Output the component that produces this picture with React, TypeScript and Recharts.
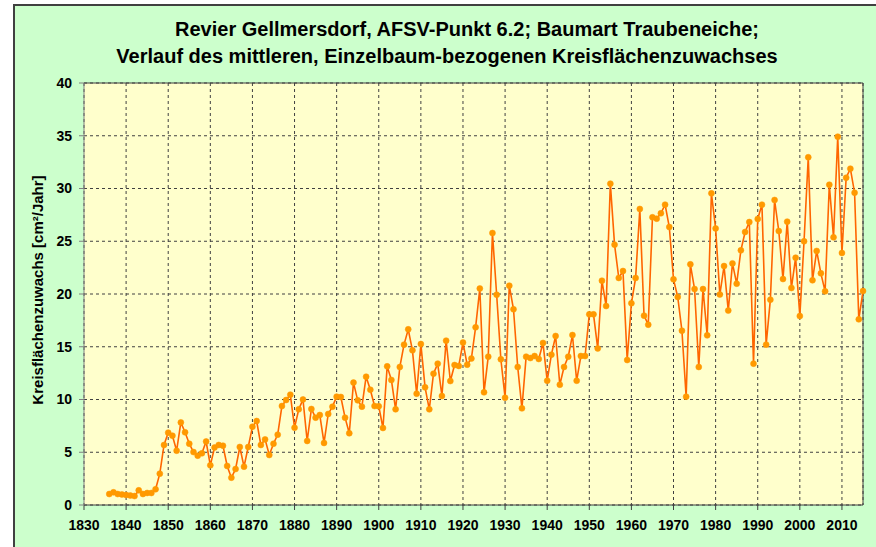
import { LineChart, Line, XAxis, YAxis, CartesianGrid, ReferenceLine } from 'recharts';

const firstYear = 1836;

// mittlerer Kreisflächenzuwachs je Jahr [cm²/Jahr], 1836–2015
const values = [
  1.04, 1.2, 1.04, 1.0, 0.95, 0.9, 0.85, 1.39, 1.04, 1.14, 1.14, 1.49, 2.97, 5.69,
  6.86, 6.57, 5.15, 7.83, 6.89, 5.81, 5.02, 4.68, 4.9, 6.02,
  3.76, 5.45, 5.69, 5.62, 3.7, 2.59, 3.41, 5.5, 3.63, 5.5,
  7.42, 7.96, 5.69, 6.22, 4.74, 5.81, 6.67, 9.38, 9.95, 10.46,
  7.33, 9.07, 10.0, 6.07, 9.1, 8.28, 8.53, 5.88, 8.63, 9.32,
  10.27, 10.24, 8.28, 6.8, 11.6, 9.92, 9.32, 12.16, 10.93, 9.38,
  9.35, 7.3, 13.14, 11.85, 9.07, 13.08, 15.2, 16.65, 14.66, 10.55,
  15.26, 11.15, 9.07, 12.45, 13.4, 10.33, 15.58, 11.75, 13.27, 13.18,
  15.4, 13.3, 13.88, 16.84, 20.52, 10.68, 14.06, 25.78, 19.93, 13.81,
  10.17, 20.79, 18.55, 13.08, 9.16, 14.06, 13.93, 14.12, 13.84, 15.36,
  11.78, 14.25, 16.02, 11.4, 13.08, 14.06, 16.11, 11.78, 14.12, 14.12,
  18.07, 18.07, 14.84, 21.26, 18.86, 30.46, 24.68, 21.52, 22.18, 13.74,
  19.12, 21.52, 28.06, 17.95, 17.09, 27.27, 27.14, 27.65, 28.47, 26.35,
  21.39, 19.72, 16.52, 10.27, 22.81, 20.47, 13.08, 20.47, 16.08, 29.54,
  26.22, 19.95, 22.65, 18.43, 22.9, 20.98, 24.14, 25.88, 26.82, 13.4,
  27.11, 28.47, 15.2, 19.46, 28.91, 25.97, 21.42, 26.86, 20.57, 23.44,
  17.91, 25.0, 32.96, 21.3, 24.08, 21.96, 20.25, 30.36, 25.37, 34.91,
  23.89, 31.02, 31.88, 29.6, 17.6, 20.28,
];

const xTicks = [1830, 1840, 1850, 1860, 1870, 1880, 1890, 1900, 1910, 1920, 1930, 1940, 1950, 1960, 1970, 1980, 1990, 2000, 2010];
const yTicks = [0, 5, 10, 15, 20, 25, 30, 35, 40];

const titleLines = [
  'Revier Gellmersdorf, AFSV-Punkt 6.2; Baumart Traubeneiche;',
  'Verlauf des mittleren, Einzelbaum-bezogenen Kreisflächenzuwachses',
];
const yLabel = 'Kreisflächenzuwachs [cm²/Jahr]';

const data = values.map((value, i) => ({ year: firstYear + i, value }));

const font = '"Liberation Sans", Arial, sans-serif';
const tickStyle = { fontFamily: font, fontSize: 14, fontWeight: 700, fill: '#000' };

export default function App() {
  return (
    <div style={{ position: 'absolute', left: 0, top: 0, width: 876, height: 547, background: '#fff', overflow: 'hidden' }}>
      <div
        style={{
          position: 'absolute',
          left: 13,
          top: 4,
          width: 900,
          height: 600,
          background: '#CCFFCC',
          borderTop: '2px solid #404040',
          borderLeft: '2px solid #404040',
        }}
      />
      <div style={{ position: 'absolute', left: 0, top: 0 }}>
        <LineChart width={876} height={547} data={data} margin={{ top: 83, right: 13, bottom: 12, left: 0 }}>
          <CartesianGrid stroke='#404040' strokeDasharray='3 3' fill='#FFFFCC' />
          <XAxis
            dataKey='year'
            type='number'
            domain={[1830, 2015]}
            ticks={xTicks}
            height={30}
            tick={tickStyle}
            tickSize={5}
            tickMargin={10}
            stroke='#404040'
            interval={0}
          />
          <YAxis
            type='number'
            domain={[0, 40]}
            ticks={yTicks}
            width={84}
            tick={tickStyle}
            tickSize={5}
            tickMargin={7}
            stroke='#808080'
            interval={0}
          />
          <ReferenceLine y={40} stroke='#404040' />
          <ReferenceLine x={2015} stroke='#404040' />
          <Line
            type='linear'
            dataKey='value'
            stroke='#FF6600'
            strokeWidth={1.6}
            dot={{ r: 3, fill: '#FF9900', stroke: '#FF9900', strokeWidth: 0.5 }}
            isAnimationActive={false}
          />
        </LineChart>
      </div>
      <svg width={876} height={547} style={{ position: 'absolute', left: 0, top: 0, pointerEvents: 'none' }}>
        <text x={467} y={36} textAnchor='middle' fontFamily={font} fontSize={20} fontWeight={700}>
          {titleLines[0]}
        </text>
        <text x={447} y={63} textAnchor='middle' fontFamily={font} fontSize={20} fontWeight={700}>
          {titleLines[1]}
        </text>
        <text
          x={0}
          y={0}
          transform='translate(43 290) rotate(-90)'
          textAnchor='middle'
          fontFamily={font}
          fontSize={15}
          fontWeight={700}
        >
          {yLabel}
        </text>
      </svg>
    </div>
  );
}
